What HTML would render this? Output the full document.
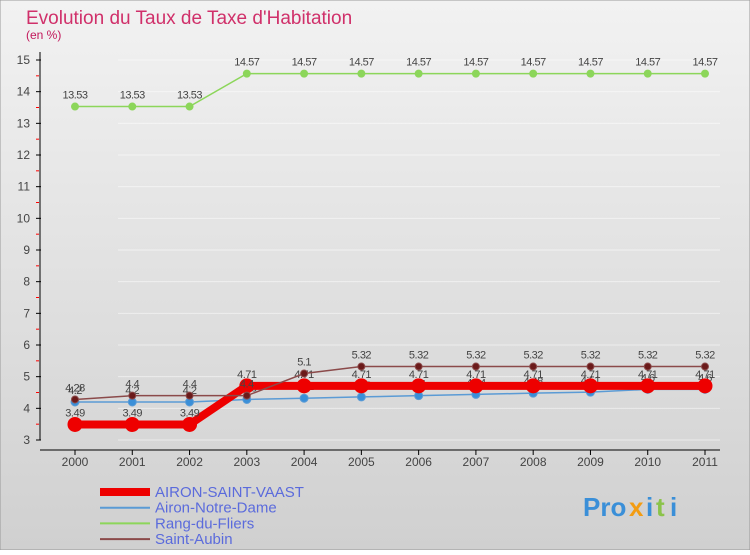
<!DOCTYPE html>
<html><head><meta charset="utf-8"><style>
body{margin:0;width:750px;height:550px;overflow:hidden;font-family:"Liberation Sans",sans-serif}
</style></head><body>
<svg id="c" width="750" height="550" xmlns="http://www.w3.org/2000/svg">
<defs><linearGradient id="bg" x1="0" y1="0" x2="0" y2="1"><stop offset="0" stop-color="#f2f2f2"/><stop offset="1" stop-color="#d0d0d0"/></linearGradient></defs>
<rect width="750" height="550" fill="url(#bg)" stroke="#999"/>
<text x="26" y="24" font-size="19" fill="#d0306a">Evolution du Taux de Taxe d'Habitation</text>
<text x="26" y="39" font-size="12" fill="#c2185b">(en %)</text>
<g id="grid" opacity="0.5"></g><g id="axes"></g><g id="series"></g><g id="legend"></g>
<g font-size="26" font-weight="bold">
<text x="583" y="516" fill="#3a8fd8">Pro</text><text x="629" y="516" fill="#f39c12">x</text><text x="646" y="516" fill="#3a8fd8">i</text><text x="656" y="516" fill="#8bc34a">t</text><text x="670" y="516" fill="#3a8fd8">i</text>
</g>
</svg>
<script>
const years=[2000,2001,2002,2003,2004,2005,2006,2007,2008,2009,2010,2011];
const yTicks=[3,4,5,6,7,8,9,10,11,12,13,14,15];
const aironSaintVaast=[3.49,3.49,3.49,4.71,4.71,4.71,4.71,4.71,4.71,4.71,4.71,4.71];
const aironNotreDame=[4.2,4.2,4.2,4.28,4.32,4.36,4.4,4.44,4.48,4.51,4.6,4.6];
const rangDuFliers=[13.53,13.53,13.53,14.57,14.57,14.57,14.57,14.57,14.57,14.57,14.57,14.57];
const saintAubin=[4.28,4.4,4.4,4.4,5.1,5.32,5.32,5.32,5.32,5.32,5.32,5.32];
const seriesNames=["AIRON-SAINT-VAAST","Airon-Notre-Dame","Rang-du-Fliers","Saint-Aubin"];
const NS="http://www.w3.org/2000/svg";
const X=i=>75+i*(630/(years.length-1));
const Y=v=>440-(v-3)*(380/12);
function mk(p,t,a){const e=document.createElementNS(NS,t);for(const k in a)e.setAttribute(k,a[k]);document.getElementById(p).appendChild(e);return e;}
yTicks.forEach(v=>{
 let g=mk('grid','line',{x1:118,x2:720,y1:Y(v),y2:Y(v),stroke:'#fff','stroke-width':1});
 
 
 mk('axes','line',{x1:36,x2:41,y1:Y(v),y2:Y(v),stroke:'#000'});
 if(v<15){mk('axes','line',{x1:36,x2:39,y1:Y(v+0.5),y2:Y(v+0.5),stroke:'red'});}
 let t=mk('axes','text',{x:30,y:Y(v)+4,'font-size':12,fill:'#444','text-anchor':'end'});t.textContent=v;
 
 
});
mk('axes','line',{x1:40,x2:40,y1:52,y2:440,stroke:'#000'});
mk('axes','line',{x1:40,x2:720,y1:450,y2:450,stroke:'#000'});
years.forEach((y,i)=>{
 mk('axes','line',{x1:X(i),x2:X(i),y1:450,y2:455,stroke:'#000'});
 let t=mk('axes','text',{x:X(i),y:466,'font-size':12,fill:'#444','text-anchor':'middle'});t.textContent=y;
 
 
});
function draw(data,color,w,r,name,dot){
 const pts=data.map((v,i)=>X(i)+','+Y(v)).join(' ');
 let l=mk('series','polyline',{points:pts,fill:'none',stroke:color,'stroke-width':w});
 
 
 data.forEach((v,i)=>{
  let c=mk('series','circle',{cx:X(i),cy:Y(v),r:r,fill:dot,stroke:color});
  
  
  let t=mk('series','text',{x:X(i),y:Y(v)-8,'font-size':11,fill:'#444','text-anchor':'middle','letter-spacing':'-0.5'});t.textContent=v;
  
  
 });
}
draw(rangDuFliers,'#8cd65a',1.5,3.5,'rang-du-fliers','#8cd65a');
draw(aironNotreDame,'#5b9bd5',1.5,4,'airon-notre-dame','#3a8fd8');
draw(aironSaintVaast,'#ee0000',8,7,'airon-saint-vaast','#ee0000');
draw(saintAubin,'#8b4a4a',1.5,3.5,'saint-aubin','#6b1a1a');
const lc=['#ee0000','#5b9bd5','#8cd65a','#8b4a4a'],lw=[8,2,2,2];
seriesNames.forEach((n,i)=>{
 const y=492+i*15.7;
 mk('legend','line',{x1:100,x2:150,y1:y,y2:y,stroke:lc[i],'stroke-width':lw[i]});
 let t=mk('legend','text',{x:155,y:y+5,'font-size':15,fill:'#5b6bdc'});t.textContent=n;
 
 
});
</script>
</body></html>
